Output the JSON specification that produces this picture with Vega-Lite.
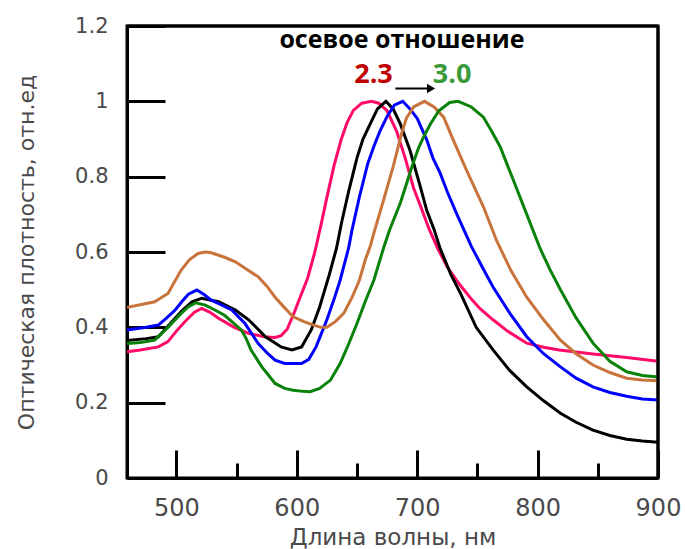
{
  "$schema": "https://vega.github.io/schema/vega-lite/v6.json",
  "width": 531,
  "height": 452,
  "autosize": {"type": "none"},
  "padding": {"left": 127, "top": 26, "right": 27, "bottom": 71},
  "config": {
    "view": {"stroke": "black", "strokeWidth": 3},
    "axis": {"grid": false, "labelFlush": false}
  },
  "datasets": {
    "curves": [
      {"s":"pink","x":459,"y":0.335},{"s":"pink","x":470,"y":0.34},{"s":"pink","x":485,"y":0.348},{"s":"pink","x":493,"y":0.362},{"s":"pink","x":500,"y":0.39},{"s":"pink","x":507,"y":0.415},{"s":"pink","x":515,"y":0.44},{"s":"pink","x":521,"y":0.45},{"s":"pink","x":528,"y":0.44},{"s":"pink","x":535,"y":0.424},{"s":"pink","x":548,"y":0.4},{"s":"pink","x":560,"y":0.384},{"s":"pink","x":573,"y":0.375},{"s":"pink","x":582,"y":0.373},{"s":"pink","x":587,"y":0.378},{"s":"pink","x":592,"y":0.395},{"s":"pink","x":598,"y":0.44},{"s":"pink","x":604,"y":0.49},{"s":"pink","x":609,"y":0.53},{"s":"pink","x":615,"y":0.6},{"s":"pink","x":620,"y":0.67},{"s":"pink","x":625,"y":0.745},{"s":"pink","x":631,"y":0.83},{"s":"pink","x":637,"y":0.9},{"s":"pink","x":642,"y":0.945},{"s":"pink","x":647,"y":0.976},{"s":"pink","x":654,"y":0.995},{"s":"pink","x":662,"y":1.0},{"s":"pink","x":668,"y":0.995},{"s":"pink","x":675,"y":0.975},{"s":"pink","x":683,"y":0.92},{"s":"pink","x":690,"y":0.85},{"s":"pink","x":697,"y":0.77},{"s":"pink","x":703,"y":0.72},{"s":"pink","x":710,"y":0.66},{"s":"pink","x":717,"y":0.61},{"s":"pink","x":725,"y":0.56},{"s":"pink","x":735,"y":0.515},{"s":"pink","x":745,"y":0.475},{"s":"pink","x":752,"y":0.45},{"s":"pink","x":763,"y":0.42},{"s":"pink","x":775,"y":0.39},{"s":"pink","x":791,"y":0.358},{"s":"pink","x":805,"y":0.347},{"s":"pink","x":818,"y":0.34},{"s":"pink","x":846,"y":0.329},{"s":"pink","x":874,"y":0.32},{"s":"pink","x":900,"y":0.31},
      {"s":"black","x":459,"y":0.365},{"s":"black","x":475,"y":0.37},{"s":"black","x":485,"y":0.375},{"s":"black","x":495,"y":0.41},{"s":"black","x":505,"y":0.445},{"s":"black","x":513,"y":0.468},{"s":"black","x":521,"y":0.477},{"s":"black","x":535,"y":0.468},{"s":"black","x":549,"y":0.446},{"s":"black","x":560,"y":0.42},{"s":"black","x":574,"y":0.375},{"s":"black","x":587,"y":0.348},{"s":"black","x":596,"y":0.34},{"s":"black","x":604,"y":0.348},{"s":"black","x":612,"y":0.393},{"s":"black","x":619,"y":0.454},{"s":"black","x":627,"y":0.54},{"s":"black","x":633,"y":0.61},{"s":"black","x":637,"y":0.675},{"s":"black","x":643,"y":0.76},{"s":"black","x":650,"y":0.85},{"s":"black","x":655,"y":0.9},{"s":"black","x":661,"y":0.94},{"s":"black","x":667,"y":0.98},{"s":"black","x":674,"y":1.0},{"s":"black","x":680,"y":0.98},{"s":"black","x":686,"y":0.94},{"s":"black","x":694,"y":0.87},{"s":"black","x":702,"y":0.78},{"s":"black","x":708,"y":0.71},{"s":"black","x":714,"y":0.66},{"s":"black","x":719,"y":0.61},{"s":"black","x":728,"y":0.54},{"s":"black","x":736,"y":0.49},{"s":"black","x":749,"y":0.4},{"s":"black","x":763,"y":0.34},{"s":"black","x":777,"y":0.285},{"s":"black","x":791,"y":0.242},{"s":"black","x":805,"y":0.205},{"s":"black","x":819,"y":0.172},{"s":"black","x":832,"y":0.148},{"s":"black","x":846,"y":0.127},{"s":"black","x":860,"y":0.113},{"s":"black","x":874,"y":0.103},{"s":"black","x":887,"y":0.098},{"s":"black","x":900,"y":0.095},
      {"s":"blue","x":459,"y":0.393},{"s":"blue","x":475,"y":0.4},{"s":"blue","x":485,"y":0.406},{"s":"blue","x":492,"y":0.425},{"s":"blue","x":499,"y":0.446},{"s":"blue","x":505,"y":0.47},{"s":"blue","x":510,"y":0.488},{"s":"blue","x":517,"y":0.499},{"s":"blue","x":523,"y":0.487},{"s":"blue","x":529,"y":0.472},{"s":"blue","x":537,"y":0.46},{"s":"blue","x":546,"y":0.446},{"s":"blue","x":557,"y":0.41},{"s":"blue","x":568,"y":0.357},{"s":"blue","x":576,"y":0.33},{"s":"blue","x":582,"y":0.313},{"s":"blue","x":590,"y":0.304},{"s":"blue","x":604,"y":0.304},{"s":"blue","x":610,"y":0.315},{"s":"blue","x":616,"y":0.348},{"s":"blue","x":620,"y":0.38},{"s":"blue","x":625,"y":0.42},{"s":"blue","x":631,"y":0.475},{"s":"blue","x":636,"y":0.525},{"s":"blue","x":643,"y":0.61},{"s":"blue","x":646,"y":0.66},{"s":"blue","x":652,"y":0.746},{"s":"blue","x":659,"y":0.835},{"s":"blue","x":664,"y":0.88},{"s":"blue","x":669,"y":0.92},{"s":"blue","x":675,"y":0.96},{"s":"blue","x":681,"y":0.99},{"s":"blue","x":688,"y":1.0},{"s":"blue","x":694,"y":0.98},{"s":"blue","x":700,"y":0.955},{"s":"blue","x":708,"y":0.897},{"s":"blue","x":713,"y":0.85},{"s":"blue","x":719,"y":0.81},{"s":"blue","x":725,"y":0.76},{"s":"blue","x":733,"y":0.7},{"s":"blue","x":745,"y":0.615},{"s":"blue","x":754,"y":0.56},{"s":"blue","x":763,"y":0.507},{"s":"blue","x":777,"y":0.437},{"s":"blue","x":791,"y":0.375},{"s":"blue","x":805,"y":0.33},{"s":"blue","x":819,"y":0.295},{"s":"blue","x":832,"y":0.265},{"s":"blue","x":846,"y":0.242},{"s":"blue","x":860,"y":0.227},{"s":"blue","x":874,"y":0.217},{"s":"blue","x":887,"y":0.21},{"s":"blue","x":900,"y":0.207},
      {"s":"brown","x":459,"y":0.453},{"s":"brown","x":470,"y":0.46},{"s":"brown","x":482,"y":0.468},{"s":"brown","x":493,"y":0.49},{"s":"brown","x":504,"y":0.552},{"s":"brown","x":511,"y":0.58},{"s":"brown","x":518,"y":0.596},{"s":"brown","x":524,"y":0.6},{"s":"brown","x":529,"y":0.598},{"s":"brown","x":540,"y":0.586},{"s":"brown","x":549,"y":0.574},{"s":"brown","x":558,"y":0.555},{"s":"brown","x":568,"y":0.534},{"s":"brown","x":575,"y":0.51},{"s":"brown","x":582,"y":0.48},{"s":"brown","x":589,"y":0.455},{"s":"brown","x":597,"y":0.428},{"s":"brown","x":606,"y":0.415},{"s":"brown","x":614,"y":0.406},{"s":"brown","x":620,"y":0.4},{"s":"brown","x":625,"y":0.4},{"s":"brown","x":632,"y":0.415},{"s":"brown","x":639,"y":0.437},{"s":"brown","x":646,"y":0.48},{"s":"brown","x":652,"y":0.525},{"s":"brown","x":657,"y":0.58},{"s":"brown","x":661,"y":0.615},{"s":"brown","x":664,"y":0.65},{"s":"brown","x":672,"y":0.737},{"s":"brown","x":680,"y":0.826},{"s":"brown","x":687,"y":0.914},{"s":"brown","x":691,"y":0.955},{"s":"brown","x":697,"y":0.985},{"s":"brown","x":706,"y":1.0},{"s":"brown","x":714,"y":0.985},{"s":"brown","x":722,"y":0.958},{"s":"brown","x":730,"y":0.897},{"s":"brown","x":741,"y":0.817},{"s":"brown","x":755,"y":0.72},{"s":"brown","x":766,"y":0.63},{"s":"brown","x":778,"y":0.55},{"s":"brown","x":791,"y":0.48},{"s":"brown","x":805,"y":0.42},{"s":"brown","x":819,"y":0.366},{"s":"brown","x":832,"y":0.33},{"s":"brown","x":846,"y":0.3},{"s":"brown","x":860,"y":0.28},{"s":"brown","x":874,"y":0.265},{"s":"brown","x":887,"y":0.26},{"s":"brown","x":900,"y":0.258},
      {"s":"green","x":459,"y":0.357},{"s":"green","x":470,"y":0.36},{"s":"green","x":482,"y":0.366},{"s":"green","x":493,"y":0.4},{"s":"green","x":504,"y":0.437},{"s":"green","x":510,"y":0.455},{"s":"green","x":516,"y":0.465},{"s":"green","x":524,"y":0.459},{"s":"green","x":532,"y":0.446},{"s":"green","x":540,"y":0.432},{"s":"green","x":548,"y":0.41},{"s":"green","x":554,"y":0.393},{"s":"green","x":558,"y":0.37},{"s":"green","x":562,"y":0.34},{"s":"green","x":571,"y":0.295},{"s":"green","x":582,"y":0.251},{"s":"green","x":590,"y":0.238},{"s":"green","x":597,"y":0.233},{"s":"green","x":605,"y":0.23},{"s":"green","x":611,"y":0.229},{"s":"green","x":619,"y":0.238},{"s":"green","x":628,"y":0.26},{"s":"green","x":636,"y":0.304},{"s":"green","x":643,"y":0.355},{"s":"green","x":650,"y":0.41},{"s":"green","x":657,"y":0.47},{"s":"green","x":664,"y":0.525},{"s":"green","x":672,"y":0.61},{"s":"green","x":677,"y":0.658},{"s":"green","x":686,"y":0.73},{"s":"green","x":691,"y":0.78},{"s":"green","x":696,"y":0.83},{"s":"green","x":701,"y":0.875},{"s":"green","x":706,"y":0.91},{"s":"green","x":711,"y":0.94},{"s":"green","x":718,"y":0.975},{"s":"green","x":727,"y":0.997},{"s":"green","x":734,"y":1.0},{"s":"green","x":745,"y":0.985},{"s":"green","x":755,"y":0.958},{"s":"green","x":762,"y":0.92},{"s":"green","x":769,"y":0.879},{"s":"green","x":775,"y":0.83},{"s":"green","x":780,"y":0.79},{"s":"green","x":791,"y":0.7},{"s":"green","x":802,"y":0.61},{"s":"green","x":810,"y":0.555},{"s":"green","x":819,"y":0.5},{"s":"green","x":832,"y":0.425},{"s":"green","x":846,"y":0.358},{"s":"green","x":860,"y":0.31},{"s":"green","x":874,"y":0.282},{"s":"green","x":887,"y":0.272},{"s":"green","x":900,"y":0.268}
    ]
  },
  "layer": [
    {
      "data": {"name": "curves"},
      "mark": {"type": "line", "strokeWidth": 3},
      "encoding": {
        "x": {
          "field": "x", "type": "quantitative",
          "scale": {"domain": [459, 900], "nice": false, "zero": false},
          "axis": {
            "values": [500, 550, 600, 650, 700, 750, 800, 850, 900],
            "labelExpr": "datum.value % 100 === 0 ? datum.label : ''",
            "tickSize": {"condition": {"test": "datum.value % 100 === 0", "value": -28}, "value": -15},
            "tickWidth": 3, "tickColor": "black",
            "domainColor": "black", "domainWidth": 3,
            "labelFont": "DejaVu Sans", "labelFontSize": 24, "labelColor": "#4a4a4a",
            "labelPadding": 46, "labelFlush": false,
            "title": "Длина волны, нм",
            "titleFont": "DejaVu Sans", "titleFontSize": 23, "titleFontWeight": "normal", "titleColor": "#4a4a4a",
            "titlePadding": 6
          }
        },
        "y": {
          "field": "y", "type": "quantitative",
          "scale": {"domain": [0, 1.2], "nice": false},
          "axis": {
            "values": [0, 0.1, 0.2, 0.3, 0.4, 0.5, 0.6, 0.7, 0.8, 0.9, 1.0, 1.1, 1.2],
            "labelExpr": "round(datum.value * 10) % 2 === 0 ? toString(round(datum.value * 10) / 10) : ''",
            "tickSize": {"condition": {"test": "round(datum.value * 10) % 2 === 0", "value": -38}, "value": -20},
            "tickWidth": 3, "tickColor": "black",
            "domainColor": "black", "domainWidth": 3,
            "labelFont": "DejaVu Sans", "labelFontSize": 21, "labelColor": "#4a4a4a",
            "labelPadding": 57, "labelFlush": false,
            "title": "Оптическая плотность, отн.ед",
            "titleFont": "DejaVu Sans", "titleFontSize": 22, "titleFontWeight": "normal", "titleColor": "#4a4a4a",
            "titlePadding": 36
          }
        },
        "color": {
          "field": "s", "type": "nominal",
          "scale": {"domain": ["pink", "black", "blue", "brown", "green"], "range": ["#ff0a68", "#000000", "#0000ff", "#c8733c", "#0a820a"]},
          "legend": null
        },
        "order": {"field": "x", "type": "quantitative"}
      }
    },
    {
      "data": {"values": [{"x1": 459, "x2": 900, "y": 1.2}]},
      "mark": {"type": "rule", "color": "black", "strokeWidth": 3},
      "encoding": {"x": {"field": "x1", "type": "quantitative"}, "x2": {"field": "x2"}, "y": {"field": "y", "type": "quantitative"}}
    },
    {
      "data": {"values": [{"x": 900, "y1": 0, "y2": 1.2}]},
      "mark": {"type": "rule", "color": "black", "strokeWidth": 3},
      "encoding": {"x": {"field": "x", "type": "quantitative"}, "y": {"field": "y1", "type": "quantitative"}, "y2": {"field": "y2"}}
    },
    {
      "data": {"values": [{"x": 687.4, "y": 1.141, "t": "осевое отношение"}]},
      "mark": {"type": "text", "font": "Open Sans", "fontWeight": "bold", "fontSize": 25, "color": "black", "baseline": "alphabetic", "align": "center"},
      "encoding": {"x": {"field": "x", "type": "quantitative"}, "y": {"field": "y", "type": "quantitative"}, "text": {"field": "t"}}
    },
    {
      "data": {"values": [{"x": 663.7, "y": 1.05, "t": "2.3"}]},
      "mark": {"type": "text", "font": "Open Sans", "fontWeight": "bold", "fontSize": 27, "color": "#c00000", "baseline": "alphabetic", "align": "center"},
      "encoding": {"x": {"field": "x", "type": "quantitative"}, "y": {"field": "y", "type": "quantitative"}, "text": {"field": "t"}}
    },
    {
      "data": {"values": [{"x": 729, "y": 1.05, "t": "3.0"}]},
      "mark": {"type": "text", "font": "Open Sans", "fontWeight": "bold", "fontSize": 27, "color": "#3a9a3a", "baseline": "alphabetic", "align": "center"},
      "encoding": {"x": {"field": "x", "type": "quantitative"}, "y": {"field": "y", "type": "quantitative"}, "text": {"field": "t"}}
    },
    {
      "data": {"values": [{"x1": 681.9, "x2": 711, "y": 1.034}]},
      "mark": {"type": "rule", "color": "black", "strokeWidth": 2},
      "encoding": {"x": {"field": "x1", "type": "quantitative"}, "x2": {"field": "x2"}, "y": {"field": "y", "type": "quantitative"}}
    },
    {
      "data": {"values": [{"x": 711.5, "y": 1.034}]},
      "mark": {"type": "point", "shape": "triangle-right", "filled": true, "color": "black", "size": 90, "opacity": 1},
      "encoding": {"x": {"field": "x", "type": "quantitative"}, "y": {"field": "y", "type": "quantitative"}}
    }
  ]
}
